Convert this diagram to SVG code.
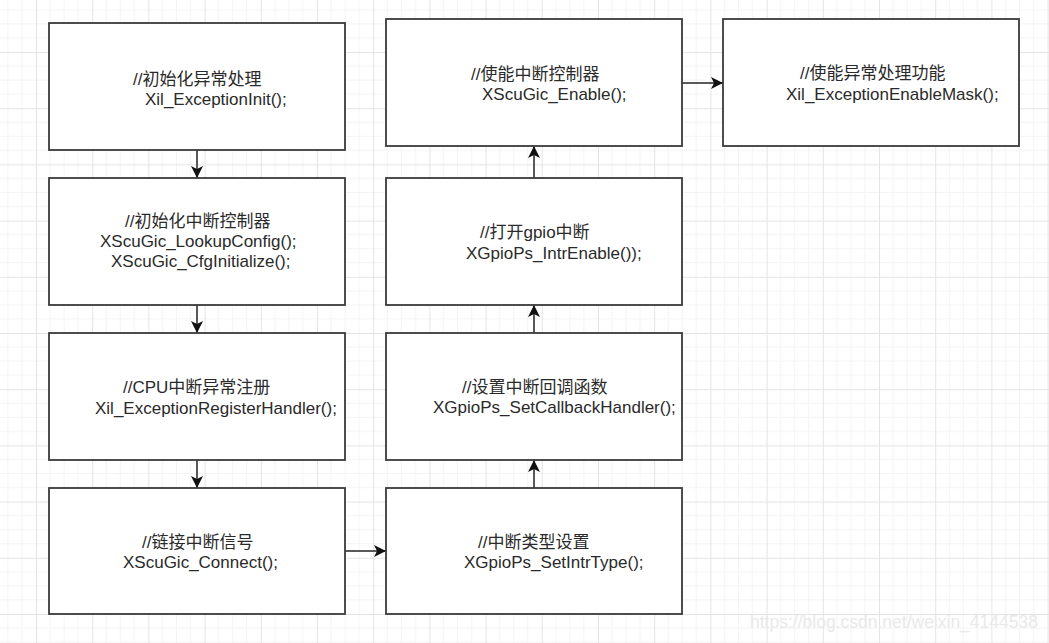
<svg xmlns="http://www.w3.org/2000/svg" width="1049" height="643" viewBox="0 0 1049 643">
  <defs>
    <pattern id="grid" x="36" y="52" width="56.2" height="56.2" patternUnits="userSpaceOnUse">
      <path d="M14.05,0 V56.2 M28.1,0 V56.2 M42.15,0 V56.2 M0,14.05 H56.2 M0,28.1 H56.2 M0,42.15 H56.2" stroke="#f4f4f4" stroke-width="1" fill="none"/>
      <path d="M0.5,0 V56.2 M0,0.5 H56.2" stroke="#e4e4e4" stroke-width="1" fill="none"/>
    </pattern>
    <marker id="arrow" markerUnits="userSpaceOnUse" markerWidth="13" markerHeight="12" refX="12" refY="6" orient="auto">
      <path d="M0,0 L12,6 L0,12 L3,6 Z" fill="#111"/>
    </marker>
    <style>
      .box { fill: #ffffff; stroke: #3a3a3a; stroke-width: 1.8; }
      .lbl { font-family: "Liberation Sans", "Noto Sans CJK SC", Arial, sans-serif; font-size: 17px; fill: #2a2a2a; }
      .edge { stroke: #222; stroke-width: 1.5; fill: none; marker-end: url(#arrow); }
      .wm { font-family: "Liberation Sans", Arial, sans-serif; font-size: 17.5px; fill: #e9e9e9; }
    </style>
  </defs>

  <rect x="0" y="0" width="1049" height="643" fill="#ffffff"/>
  <rect x="0" y="0" width="1049" height="643" fill="url(#grid)"/>

  <g id="connectors">
    <line class="edge" x1="197" y1="150" x2="197" y2="178"/>
    <line class="edge" x1="197" y1="305" x2="197" y2="333"/>
    <line class="edge" x1="197" y1="460" x2="197" y2="488"/>
    <line class="edge" x1="345" y1="551" x2="386" y2="551"/>
    <line class="edge" x1="534" y1="488" x2="534" y2="460"/>
    <line class="edge" x1="534" y1="333" x2="534" y2="305"/>
    <line class="edge" x1="534" y1="178" x2="534" y2="146"/>
    <line class="edge" x1="682" y1="83" x2="723" y2="83"/>
  </g>

  <g id="node-exception-init">
    <rect class="box" x="49" y="23" width="296" height="127"/>
    <text class="lbl" x="133" y="85">//初始化异常处理</text>
    <text class="lbl" x="145" y="105">Xil_ExceptionInit();</text>
  </g>

  <g id="node-gic-init">
    <rect class="box" x="49" y="178" width="296" height="127"/>
    <text class="lbl" x="125" y="227">//初始化中断控制器</text>
    <text class="lbl" x="100" y="247">XScuGic_LookupConfig();</text>
    <text class="lbl" x="111" y="267">XScuGic_CfgInitialize();</text>
  </g>

  <g id="node-register-handler">
    <rect class="box" x="49" y="333" width="296" height="127"/>
    <text class="lbl" x="123" y="393">//CPU中断异常注册</text>
    <text class="lbl" x="95" y="414">Xil_ExceptionRegisterHandler();</text>
  </g>

  <g id="node-connect">
    <rect class="box" x="49" y="488" width="296" height="126"/>
    <text class="lbl" x="142" y="548">//链接中断信号</text>
    <text class="lbl" x="123" y="568">XScuGic_Connect();</text>
  </g>

  <g id="node-set-intr-type">
    <rect class="box" x="386" y="488" width="296" height="126"/>
    <text class="lbl" x="478" y="548">//中断类型设置</text>
    <text class="lbl" x="464" y="568">XGpioPs_SetIntrType();</text>
  </g>

  <g id="node-set-callback">
    <rect class="box" x="386" y="333" width="296" height="127"/>
    <text class="lbl" x="462" y="393">//设置中断回调函数</text>
    <text class="lbl" x="433" y="413">XGpioPs_SetCallbackHandler();</text>
  </g>

  <g id="node-intr-enable">
    <rect class="box" x="386" y="178" width="296" height="127"/>
    <text class="lbl" x="480" y="238">//打开gpio中断</text>
    <text class="lbl" x="466" y="259">XGpioPs_IntrEnable());</text>
  </g>

  <g id="node-gic-enable">
    <rect class="box" x="386" y="19" width="296" height="127"/>
    <text class="lbl" x="471" y="80">//使能中断控制器</text>
    <text class="lbl" x="482" y="100">XScuGic_Enable();</text>
  </g>

  <g id="node-exception-enable">
    <rect class="box" x="723" y="19" width="296" height="127"/>
    <text class="lbl" x="800" y="79">//使能异常处理功能</text>
    <text class="lbl" x="786" y="100">Xil_ExceptionEnableMask();</text>
  </g>

  <text class="wm" x="750" y="628">https://blog.csdn.net/weixin_4144538</text>
</svg>
